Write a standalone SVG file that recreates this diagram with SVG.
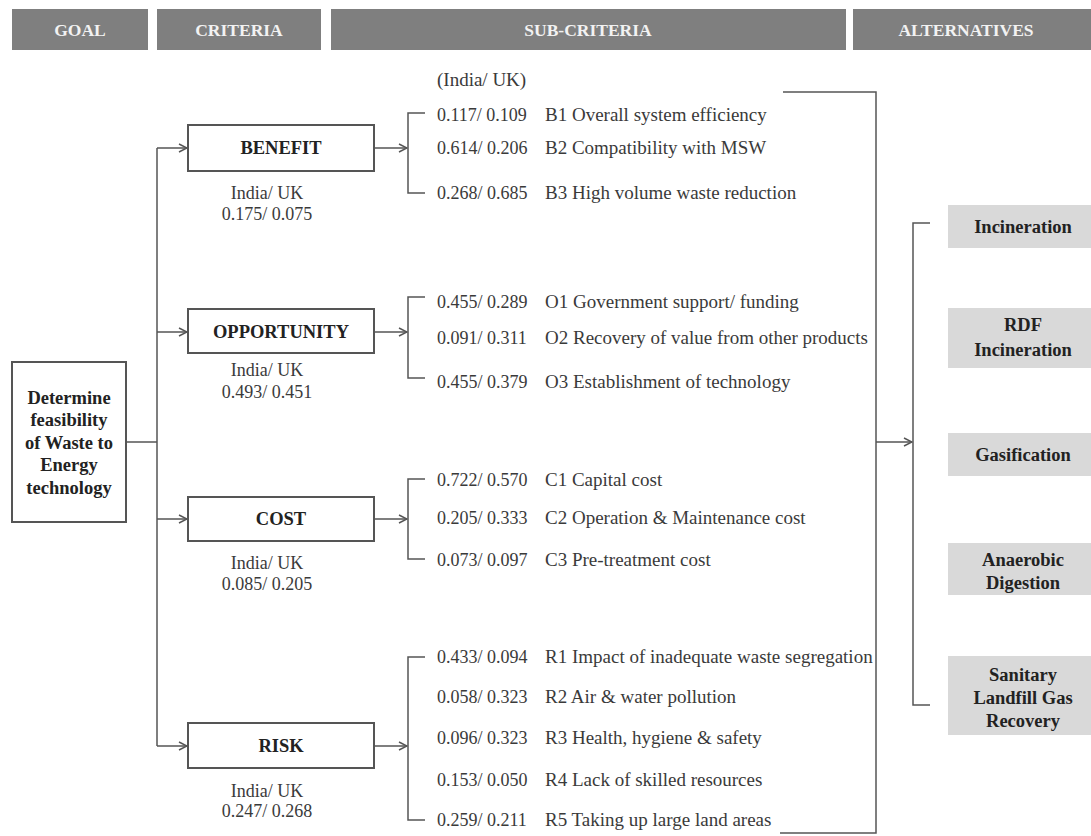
<svg xmlns="http://www.w3.org/2000/svg" width="1091" height="836" viewBox="0 0 1091 836">
<style>
.hdr{fill:#7f7f7f}
.hdrt{font-family:"Liberation Serif","Times New Roman",serif;font-weight:bold;font-size:17.5px;fill:#f2f2f2;text-anchor:middle}
.box{fill:#fff;stroke:#555;stroke-width:2}
.alt{fill:#d9d9d9}
.bt{font-family:"Liberation Serif","Times New Roman",serif;font-weight:bold;font-size:18.5px;fill:#222;text-anchor:middle}
.at{font-family:"Liberation Serif","Times New Roman",serif;font-weight:bold;font-size:18.5px;fill:#222;text-anchor:middle}
.t{font-family:"Liberation Serif","Times New Roman",serif;font-size:19px;fill:#3a3a3a}
.n{font-family:"Liberation Serif","Times New Roman",serif;font-size:18px;fill:#3a3a3a}
.tc{font-family:"Liberation Serif","Times New Roman",serif;font-size:18px;fill:#3a3a3a;text-anchor:middle}
.ln{fill:none;stroke:#555;stroke-width:1.5}
</style>
<defs>
<marker id="arr" markerWidth="10" markerHeight="10" refX="9" refY="5" orient="auto" markerUnits="userSpaceOnUse">
<path d="M1,1 L9,5 L1,9" fill="none" stroke="#555" stroke-width="1.5"/>
</marker>
</defs>
<g id="headers">
<rect class="hdr" x="12" y="9" width="136" height="41"/>
<text class="hdrt" x="80" y="36">GOAL</text>
<rect class="hdr" x="157" y="9" width="164" height="41"/>
<text class="hdrt" x="239" y="36">CRITERIA</text>
<rect class="hdr" x="331" y="9" width="515" height="41"/>
<text class="hdrt" x="588" y="36">SUB-CRITERIA</text>
<rect class="hdr" x="853" y="9" width="238" height="41"/>
<text class="hdrt" x="966" y="36">ALTERNATIVES</text>
</g>
<g id="connectors">
<path class="ln" d="M126,442 H157 M157,148 V746"/>
<path class="ln" marker-end="url(#arr)" d="M157,148 H187"/>
<path class="ln" marker-end="url(#arr)" d="M157,332 H187"/>
<path class="ln" marker-end="url(#arr)" d="M157,519 H187"/>
<path class="ln" marker-end="url(#arr)" d="M157,746 H187"/>
<path class="ln" marker-end="url(#arr)" d="M374,148 H407"/>
<path class="ln" marker-end="url(#arr)" d="M374,332 H407"/>
<path class="ln" marker-end="url(#arr)" d="M374,519 H407"/>
<path class="ln" marker-end="url(#arr)" d="M374,746 H407"/>
<path class="ln" d="M425,113 H408 V193 H425"/>
<path class="ln" d="M425,297 H408 V378 H425"/>
<path class="ln" d="M425,479 H408 V559 H425"/>
<path class="ln" d="M425,657 H408 V820 H425"/>
<path class="ln" d="M783,92 H876 V833 H780"/>
<path class="ln" marker-end="url(#arr)" d="M876,442 H912"/>
<path class="ln" d="M930,223 H913 V705 H930"/>
</g>
<g id="goal">
<rect class="box" x="12" y="362" width="114" height="160"/>
<text class="bt" x="69" y="404">Determine</text>
<text class="bt" x="69" y="426">feasibility</text>
<text class="bt" x="69" y="449">of Waste to</text>
<text class="bt" x="69" y="471">Energy</text>
<text class="bt" x="69" y="494">technology</text>
</g>
<g id="benefit">
<rect class="box" x="188" y="125" width="186" height="46"/>
<text class="bt" x="281" y="154">BENEFIT</text>
<text class="tc" x="267" y="199">India/ UK</text>
<text class="tc" x="267" y="220">0.175/ 0.075</text>
</g>
<g id="opportunity">
<rect class="box" x="188" y="309" width="186" height="44"/>
<text class="bt" x="281" y="338">OPPORTUNITY</text>
<text class="tc" x="267" y="376">India/ UK</text>
<text class="tc" x="267" y="398">0.493/ 0.451</text>
</g>
<g id="cost">
<rect class="box" x="188" y="497" width="186" height="44"/>
<text class="bt" x="281" y="525">COST</text>
<text class="tc" x="267" y="569">India/ UK</text>
<text class="tc" x="267" y="590">0.085/ 0.205</text>
</g>
<g id="risk">
<rect class="box" x="188" y="723" width="186" height="45"/>
<text class="bt" x="281" y="752">RISK</text>
<text class="tc" x="267" y="797">India/ UK</text>
<text class="tc" x="267" y="817">0.247/ 0.268</text>
</g>
<g id="subcriteria">
<text class="t" x="437" y="86">(India/ UK)</text>
<text class="n" x="437" y="121">0.117/ 0.109</text><text class="t" x="545" y="121">B1 Overall system efficiency</text>
<text class="n" x="437" y="154">0.614/ 0.206</text><text class="t" x="545" y="154">B2 Compatibility with MSW</text>
<text class="n" x="437" y="199">0.268/ 0.685</text><text class="t" x="545" y="199">B3 High volume waste reduction</text>
<text class="n" x="437" y="308">0.455/ 0.289</text><text class="t" x="545" y="308">O1 Government support/ funding</text>
<text class="n" x="437" y="344">0.091/ 0.311</text><text class="t" x="545" y="344">O2 Recovery of value from other products</text>
<text class="n" x="437" y="388">0.455/ 0.379</text><text class="t" x="545" y="388">O3 Establishment of technology</text>
<text class="n" x="437" y="486">0.722/ 0.570</text><text class="t" x="545" y="486">C1 Capital cost</text>
<text class="n" x="437" y="524">0.205/ 0.333</text><text class="t" x="545" y="524">C2 Operation &amp; Maintenance cost</text>
<text class="n" x="437" y="566">0.073/ 0.097</text><text class="t" x="545" y="566">C3 Pre-treatment cost</text>
<text class="n" x="437" y="663">0.433/ 0.094</text><text class="t" x="545" y="663">R1 Impact of inadequate waste segregation</text>
<text class="n" x="437" y="703">0.058/ 0.323</text><text class="t" x="545" y="703">R2 Air &amp; water pollution</text>
<text class="n" x="437" y="744">0.096/ 0.323</text><text class="t" x="545" y="744">R3 Health, hygiene &amp; safety</text>
<text class="n" x="437" y="786">0.153/ 0.050</text><text class="t" x="545" y="786">R4 Lack of skilled resources</text>
<text class="n" x="437" y="826">0.259/ 0.211</text><text class="t" x="545" y="826">R5 Taking up large land areas</text>
</g>
<g id="alt-incineration">
<rect class="alt" x="948" y="205" width="143" height="43"/>
<text class="at" x="1023" y="233">Incineration</text>
</g>
<g id="alt-rdf">
<rect class="alt" x="948" y="308" width="143" height="60"/>
<text class="at" x="1023" y="331">RDF</text>
<text class="at" x="1023" y="356">Incineration</text>
</g>
<g id="alt-gasification">
<rect class="alt" x="948" y="433" width="143" height="43"/>
<text class="at" x="1023" y="461">Gasification</text>
</g>
<g id="alt-anaerobic">
<rect class="alt" x="948" y="543" width="143" height="52"/>
<text class="at" x="1023" y="566">Anaerobic</text>
<text class="at" x="1023" y="589">Digestion</text>
</g>
<g id="alt-landfill">
<rect class="alt" x="948" y="656" width="143" height="79"/>
<text class="at" x="1023" y="681">Sanitary</text>
<text class="at" x="1023" y="704">Landfill Gas</text>
<text class="at" x="1023" y="727">Recovery</text>
</g>
</svg>
